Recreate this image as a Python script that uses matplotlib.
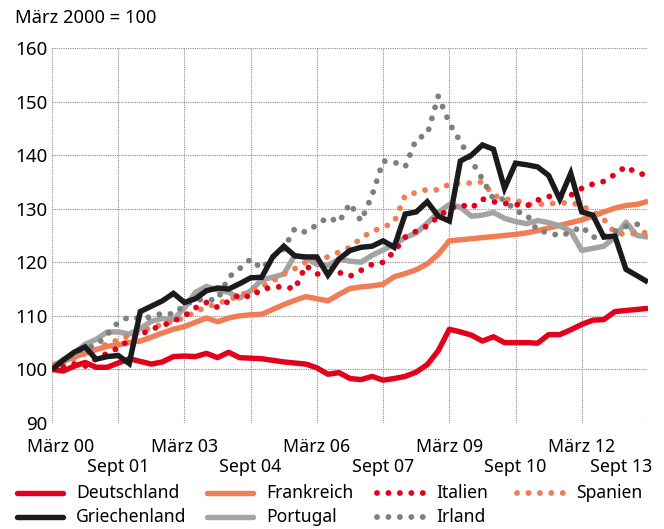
import matplotlib.pyplot as plt
import matplotlib
from matplotlib.lines import Line2D
import numpy as np

matplotlib.rcParams['font.family'] = ['Noto Sans', 'DejaVu Sans']
matplotlib.rcParams['font.size'] = 12

# Quartalswerte, März 2000 = 100 (März 00 bis Sept 13)
quartale = np.arange(55)

deutschland = [100, 99.7, 100.6, 101.3, 100.4, 100.4, 101.2, 102, 101.5, 101, 101.4,
               102.4, 102.5, 102.4, 103, 102.2, 103.2, 102.2, 102.1, 102, 101.7, 101.4,
               101.2, 101, 100.3, 99.1, 99.4, 98.3, 98.1, 98.7, 98, 98.3, 98.7, 99.5,
               100.9, 103.5, 107.5, 107, 106.4, 105.3, 106.1, 105, 105, 105, 104.9,
               106.5, 106.5, 107.4, 108.4, 109.2, 109.3, 110.8, 111, 111.2, 111.4]

frankreich = [100.8, 101.5, 102.3, 103, 103.7, 104.3, 104.6, 105, 105.3, 106, 106.8,
              107.5, 108, 108.8, 109.6, 108.9, 109.6, 110, 110.2, 110.3, 111.2, 112.1,
              112.9, 113.6, 113.2, 112.8, 114, 115.1, 115.4, 115.6, 115.9, 117.3, 117.9,
              118.6, 119.7, 121.5, 124, 124.2, 124.4, 124.6, 124.8, 125, 125.2, 125.5,
              125.9, 126.4, 126.9, 127.4, 127.9, 128.6, 129.4, 130.1, 130.6, 130.8, 131.4]

griechenland = [100, 101.7, 103.2, 104.2, 101.9, 102.4, 102.6, 101.1, 110.8, 111.8, 112.8,
                114.2, 112.5, 113.2, 114.7, 115.2, 115, 116, 117.1, 117.2, 121, 123,
                121.2, 121, 121, 117.6, 120.6, 122.2, 122.8, 123, 124, 122.8, 129, 129.4,
                131.3, 128.6, 127.7, 138.9, 140, 141.9, 141.1, 133.8, 138.5, 138.2, 137.8,
                136.2, 131.8, 136.6, 129.4, 128.8, 124.7, 124.9, 118.7, 117.5, 116.3]

portugal = [100.3, 101.8, 103, 104.7, 105.6, 107, 107, 106.6, 107.6, 109, 109.5,
            109.3, 111.5, 114.4, 115.5, 114.8, 114.4, 113.3, 114.7, 116.7, 117.2, 117.8,
            121.3, 120.8, 119.6, 119.4, 120.6, 120.2, 120, 121.3, 122.3, 123.3, 124.6,
            125.5, 127.3, 129.3, 130.8, 130.3, 128.6, 128.8, 129.3, 128.2, 127.6, 127.2,
            127.8, 127.4, 126.8, 125.8, 122.2, 122.6, 123, 124.7, 127.5, 125, 124.7]

italien = [100, 100.5, 101, 100.6, 102, 103, 104, 105.5, 106.5, 107.5, 108.2,
           109, 110, 111.5, 112.5, 111.6, 112.7, 114, 113.5, 115, 115.3, 115.5,
           115, 119.4, 117.8, 118, 118.1, 117.4, 118.5, 119.6, 120, 122, 124.7, 125.8,
           126.8, 128.5, 130, 130.8, 130.1, 131.8, 131.3, 131, 130.8, 130.5, 131.6,
           132.3, 132.1, 132.5, 133.8, 134.6, 135.1, 136.4, 137.9, 136.6, 136.3]

spanien = [100.5, 101, 102, 103, 103.8, 104.8, 105.5, 106.3, 107, 107.8, 108.4,
           109, 109.6, 110.8, 111.6, 112.3, 113, 113.8, 114.6, 115.5, 116.5, 117.8,
           118.8, 120, 120.5, 121, 121.9, 122.8, 124.5, 125.8, 126.5, 127.5, 132.5, 133,
           133.6, 133.5, 134.6, 134.7, 134.8, 135, 132.5, 131.8, 131.6, 130.8, 130.8,
           131, 131, 131.2, 130.5, 129.5, 128, 125.5, 125.2, 125.4, 125.6]

irland = [100, 101.5, 103, 104, 104.5, 106.5, 108.8, 109.8, 109.5, 109.8, 110.5,
          110.3, 112, 113, 113, 113, 117.2, 118.8, 120.6, 118.8, 121, 122.5,
          126.3, 125.6, 127, 128.4, 127.5, 131, 127.7, 132.5, 138.9, 138.7, 137.8, 143,
          143.9, 151, 146, 142.5, 139, 135.5, 131.8, 131.8, 129.5, 129, 125.8,
          125.6, 124.9, 125.6, 126.7, 124.7, 124.7, 125.8, 126.7, 127.1, 127]

tick_pos = [0, 6, 12, 18, 24, 30, 36, 42, 48, 54]
tick_labels = ['März 00', 'Sept 01', 'März 03', 'Sept 04', 'März 06',
               'Sept 07', 'März 09', 'Sept 10', 'März 12', 'Sept 13']

rot = '#e3001b'
orange = '#ef7d55'
schwarz = '#1b1a1d'
hellgrau = '#a4a4a4'
dunkelgrau = '#7f7f7f'

fig = plt.figure(figsize=(6.64, 5.29), dpi=100)
ax = fig.add_axes([52 / 664, 1 - 423 / 529, 596 / 664, 375 / 529])

lw = 3.9
lw_dot = 4.2
dots = (0, (0.01, 1.95))

ax.plot(quartale, frankreich, color=orange, lw=lw, solid_capstyle='butt', zorder=3)
ax.plot(quartale, portugal, color=hellgrau, lw=lw, solid_capstyle='butt', zorder=3)
ax.plot(quartale, deutschland, color=rot, lw=lw, solid_capstyle='butt', zorder=4)
ax.plot(quartale, spanien, color=orange, lw=lw_dot, ls=dots, dash_capstyle='round', zorder=4)
ax.plot(quartale, irland, color=dunkelgrau, lw=lw_dot, ls=dots, dash_capstyle='round', zorder=4)
ax.plot(quartale, italien, color=rot, lw=lw_dot, ls=dots, dash_capstyle='round', zorder=4)
ax.plot(quartale, griechenland, color=schwarz, lw=lw, solid_capstyle='butt',
        solid_joinstyle='miter', zorder=5)

ax.set_xlim(0, 54)
ax.set_ylim(90, 160)
ax.set_xticks(tick_pos)
ax.set_yticks(np.arange(90, 161, 10))
ax.set_xticklabels([])
ax.tick_params(length=0, labelsize=13.5, pad=3)
ax.grid(True, color='#8c8c8c', linestyle=(0, (1, 1)), linewidth=0.8)
for s in ax.spines.values():
    s.set_visible(False)

# x-Beschriftung in zwei Reihen
for i, (p, lab) in enumerate(zip(tick_pos, tick_labels)):
    y = -24 if i % 2 == 0 else -44
    ha = 'center'
    dx = 0
    if i == 0:
        dx = 9
    if i == len(tick_pos) - 1:
        ha = 'right'
        dx = 4
    ax.annotate(lab, xy=(p, 90), xycoords='data', xytext=(dx, y),
                textcoords='offset pixels', ha=ha, va='center', fontsize=12.8)

fig.text(15 / 664, 1 - 18 / 529, 'März 2000 = 100', ha='left', va='center', fontsize=13.2)

# Legende
eintraege = [
    ('Deutschland', rot, '-', 15, 493),
    ('Griechenland', schwarz, '-', 15, 517),
    ('Frankreich', orange, '-', 205, 493),
    ('Portugal', hellgrau, '-', 205, 517),
    ('Italien', rot, dots, 375, 493),
    ('Irland', dunkelgrau, dots, 375, 517),
    ('Spanien', orange, dots, 515, 493),
]
for name, farbe, stil, x0, y0 in eintraege:
    yf = 1 - y0 / 529
    line = Line2D([(x0 + 2) / 664, (x0 + 48) / 664], [yf, yf], transform=fig.transFigure,
                  color=farbe, lw=lw if stil == '-' else lw_dot, ls=stil,
                  solid_capstyle='round', dash_capstyle='round')
    fig.add_artist(line)
    fig.text((x0 + 61) / 664, yf, name, ha='left', va='center', fontsize=12.6)

plt.savefig('out.png', dpi=100)
plt.close()
